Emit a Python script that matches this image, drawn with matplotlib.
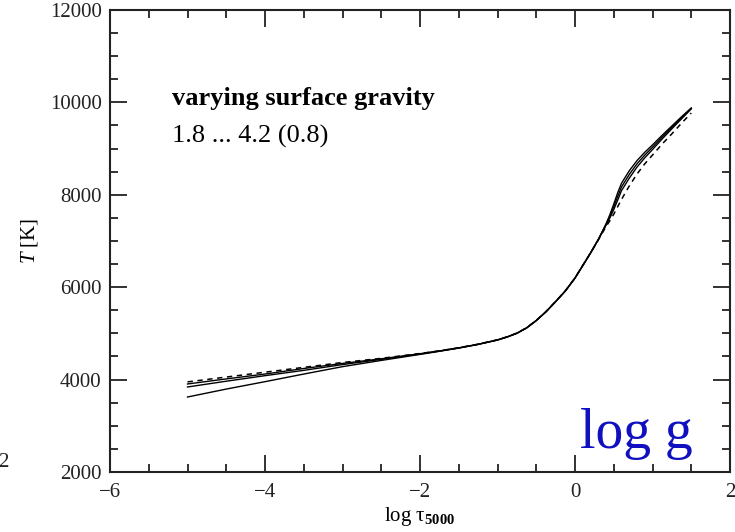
import numpy as np
import matplotlib
matplotlib.use("Agg")
import matplotlib.pyplot as plt

plt.rcParams["font.family"] = ["Liberation Serif", "DejaVu Serif"]
plt.rcParams["mathtext.fontset"] = "custom"
plt.rcParams["mathtext.rm"] = "Liberation Serif"
plt.rcParams["mathtext.it"] = "Liberation Serif:italic"
plt.rcParams["mathtext.bf"] = "Liberation Serif:bold"

# log tau_5000 grid
log_tau = [-5.0, -4.5, -4.0, -3.5, -3.0, -2.5, -2.0, -1.75, -1.5, -1.25, -1.0,
           -0.875, -0.75, -0.625, -0.5, -0.375, -0.25, -0.125, 0.0, 0.1, 0.2,
           0.3, 0.4, 0.45, 0.5, 0.55, 0.6, 0.7, 0.8, 0.9, 1.0, 1.125, 1.25,
           1.375, 1.5]

# temperature structures, log g = 1.8 ... 4.2 (step 0.8)
T_a = [3623, 3795, 3955, 4120, 4280, 4415, 4545, 4612, 4682, 4761, 4856,
       4921, 5001, 5116, 5276, 5466, 5686, 5916, 6196, 6466, 6738, 7030,
       7370, 7570, 7800, 8040, 8250, 8520, 8740, 8920, 9080, 9290, 9490,
       9690, 9880]
T_b = [3840, 3965, 4085, 4200, 4325, 4438, 4555, 4618, 4685, 4763, 4858,
       4923, 5003, 5118, 5278, 5468, 5688, 5918, 6198, 6468, 6740, 7030,
       7355, 7535, 7740, 7960, 8170, 8440, 8670, 8860, 9030, 9250, 9460,
       9665, 9870]
T_c = [3905, 4015, 4120, 4240, 4350, 4450, 4560, 4620, 4687, 4765, 4860,
       4925, 5005, 5120, 5280, 5470, 5690, 5920, 6200, 6470, 6740, 7030,
       7340, 7500, 7680, 7880, 8090, 8360, 8600, 8800, 8980, 9210, 9430,
       9645, 9860]
T_d = [3950, 4055, 4160, 4265, 4370, 4460, 4565, 4623, 4689, 4767, 4862,
       4927, 5007, 5122, 5282, 5472, 5692, 5922, 6202, 6472, 6740, 7020,
       7310, 7440, 7580, 7740, 7900, 8190, 8450, 8670, 8860, 9100, 9320,
       9550, 9770]

fig = plt.figure(figsize=(7.35, 5.32), dpi=100)
ax = fig.add_axes([0.1497, 0.1128, 0.8435, 0.8684])

for T in (T_a, T_b, T_c):
    ax.plot(log_tau, T, color="black", lw=1.0)
ax.plot(log_tau, T_d, color="black", lw=1.1, ls=(0, (3.5, 3)))

ax.set_xlim(-6, 2)
ax.set_ylim(2000, 12000)
ax.set_xticks([-6, -4, -2, 0, 2])
ax.set_xticks(np.arange(-6, 2.01, 0.5), minor=True)
ax.set_yticks([2000, 4000, 6000, 8000, 10000, 12000])
ax.set_yticks(np.arange(2000, 12001, 500), minor=True)
ax.set_xticklabels(["\u22126", "\u22124", "\u22122", "0", "2"])

ax.tick_params(which="both", direction="in", top=True, right=True,
               labelsize=15, width=1.3, colors="#222222")
ax.tick_params(axis="x", which="both", pad=8)
ax.tick_params(axis="y", which="both", pad=6)
ax.tick_params(which="major", length=12)
ax.tick_params(which="minor", length=6)
for s in ax.spines.values():
    s.set_linewidth(1.5)
    s.set_color("#222222")

ax.set_xlabel(r"log $\mathrm{\tau}_{\mathbf{5000}}$", fontsize=15, labelpad=2)
ax.set_ylabel(r"$T$ [K]", fontsize=15, labelpad=7)

ax.text(0.1, 0.794, "varying surface gravity", transform=ax.transAxes,
        fontsize=19, fontweight="bold", va="baseline")
ax.text(0.1, 0.714, "1.8 ... 4.2 (0.8)", transform=ax.transAxes,
        fontsize=19, va="baseline")
ax.text(0.940, 0.052, "log g", transform=ax.transAxes, fontsize=40,
        color="#1010c0", ha="right", va="baseline")

fig.text(0.012, 0.13, "2", fontsize=15, ha="right", va="center", color="#222222")

fig.savefig("out.png", dpi=100)
